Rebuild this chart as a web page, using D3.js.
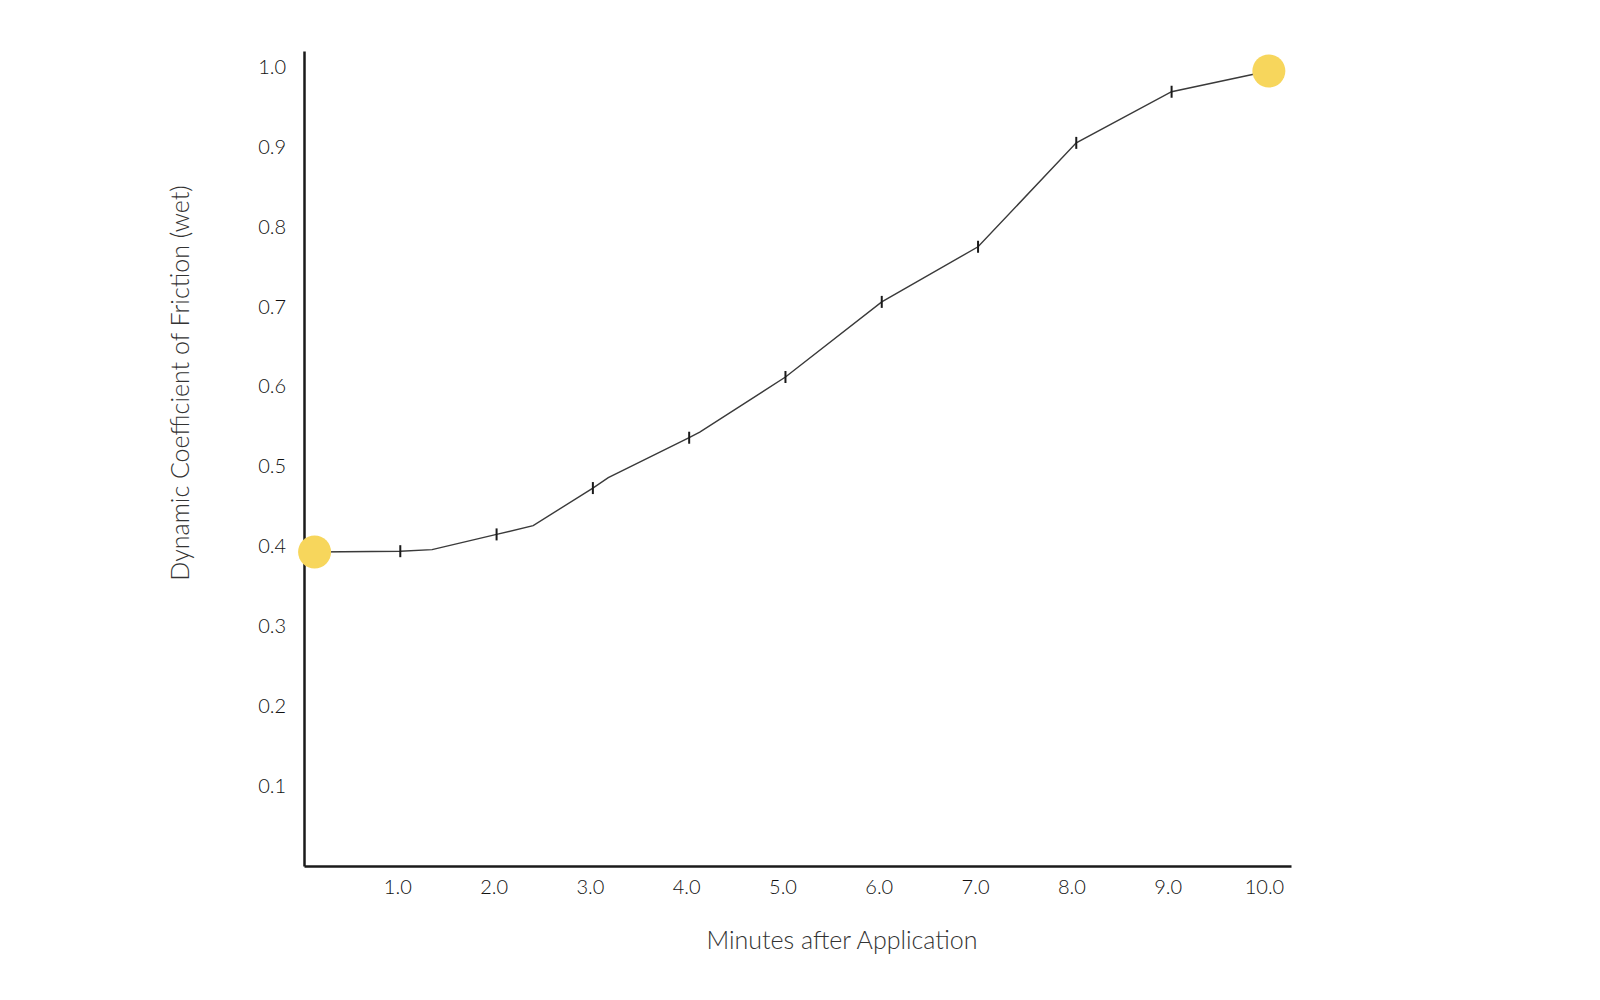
<!DOCTYPE html>
<html>
<head>
<meta charset="utf-8">
<script src="https://cdn.jsdelivr.net/npm/d3@7"></script>
<style>
  html, body { margin: 0; padding: 0; background: #ffffff; }
  svg { display: block; }
  .tick text { font-family: Lato, "Open Sans", sans-serif; font-size: 20px; fill: #111111; font-weight: 300; }
  .title { font-family: Lato, "Open Sans", sans-serif; font-size: 25px; fill: #333333; font-weight: 300; }
</style>
</head>
<body>
<script>
// Curve vertices (minutes, dynamic coefficient of friction)
const minutes = [0.11, 1.0, 1.33, 2.0, 2.38, 3.0, 3.16, 4.0, 4.11, 5.0, 6.0, 7.0, 8.02, 9.01, 10.02];
const friction = [0.393, 0.394, 0.396, 0.415, 0.426, 0.473, 0.486, 0.536, 0.543, 0.612, 0.706, 0.775, 0.905, 0.969, 0.995];
// vertices carrying a small vertical marker
const markedMinutes = [1.0, 2.0, 3.0, 4.0, 5.0, 6.0, 7.0, 8.02, 9.01];
const markedFriction = [0.394, 0.415, 0.473, 0.536, 0.612, 0.706, 0.775, 0.905, 0.969];
// highlighted end points
const endMinutes = [0.11, 10.02];
const endFriction = [0.393, 0.995];
// axis tick labels
const xTicks = [1, 2, 3, 4, 5, 6, 7, 8, 9, 10];
const yTicks = [0.1, 0.2, 0.3, 0.4, 0.5, 0.6, 0.7, 0.8, 0.9, 1.0];

const W = 1600, H = 1000;
const svg = d3.select("body").append("svg").attr("width", W).attr("height", H);

const x = d3.scaleLinear().domain([0, 10.25]).range([304, 1291]);
const y = d3.scaleLinear().domain([0, 1.02]).range([866, 51]);

// axes
const xAxis = d3.axisBottom(x).tickValues(xTicks).tickSize(0).tickPadding(14).tickFormat(d3.format(".1f"));
const yAxis = d3.axisLeft(y).tickValues(yTicks).tickSize(0).tickPadding(18).tickFormat(d3.format(".1f"));

const gx = svg.append("g").attr("transform", `translate(0,${y(0)})`).call(xAxis);
const gy = svg.append("g").attr("transform", `translate(${x(0)},0)`).call(yAxis);
[gx, gy].forEach(g => g.select(".domain").attr("stroke", "#1a1a1a").attr("stroke-width", 2.5));
gx.selectAll(".tick text").attr("dx", "-3");

// line
const pts = minutes.map((m, i) => [m, friction[i]]);
svg.append("path")
  .datum(pts)
  .attr("fill", "none")
  .attr("stroke", "#3a3a3a")
  .attr("stroke-width", 1.4)
  .attr("d", d3.line().x(d => x(d[0])).y(d => y(d[1])));

// markers
svg.append("g").selectAll("line")
  .data(markedMinutes.map((m, i) => [m, markedFriction[i]]))
  .join("line")
  .attr("x1", d => x(d[0])).attr("x2", d => x(d[0]))
  .attr("y1", d => y(d[1]) - 6).attr("y2", d => y(d[1]) + 6)
  .attr("stroke", "#1a1a1a").attr("stroke-width", 2);

// end circles
svg.append("g").selectAll("circle")
  .data(endMinutes.map((m, i) => [m, endFriction[i]]))
  .join("circle")
  .attr("cx", d => x(d[0])).attr("cy", d => y(d[1]))
  .attr("r", 16.5)
  .attr("fill", "#F7D65C");

// titles
svg.append("text").attr("class", "title")
  .attr("x", 842).attr("y", 949)
  .attr("text-anchor", "middle")
  .text("Minutes after Application");

svg.append("text").attr("class", "title")
  .attr("transform", `translate(189,383) rotate(-90)`)
  .attr("text-anchor", "middle")
  .text("Dynamic Coefficient of Friction (wet)");
</script>
</body>
</html>
